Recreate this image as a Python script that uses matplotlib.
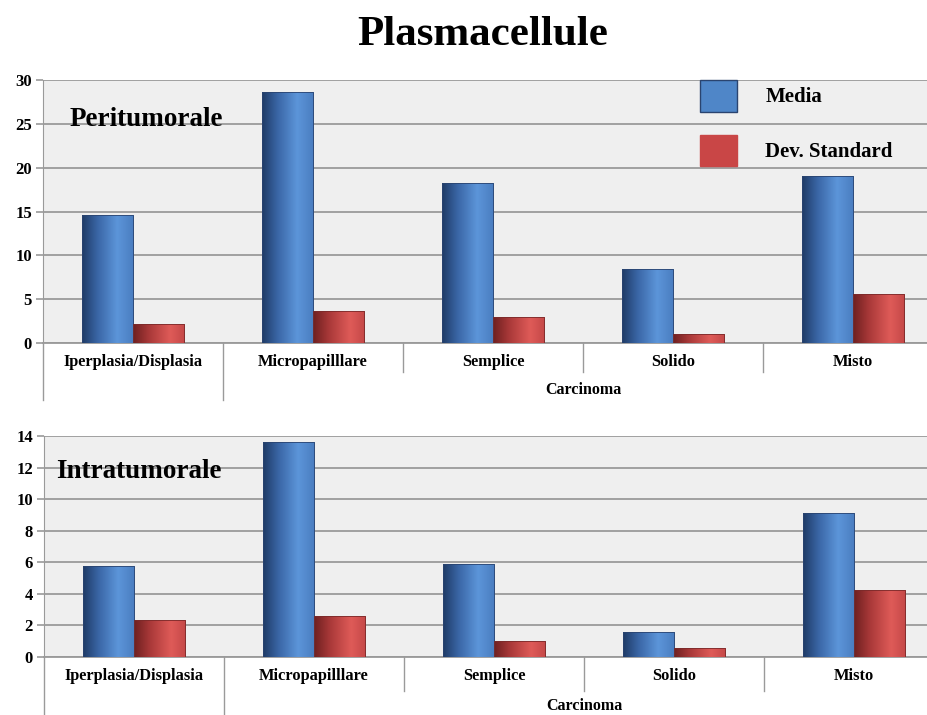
import numpy as np
import matplotlib
matplotlib.use("Agg")
import matplotlib.pyplot as plt
from matplotlib.colors import LinearSegmentedColormap
from matplotlib.patches import Rectangle
from matplotlib import transforms

categories = ["Iperplasia/Displasia", "Micropapilllare", "Semplice", "Solido", "Misto"]
group_label = "Carcinoma"
series_names = ["Media", "Dev. Standard"]

peri_media = [14.6, 28.6, 18.2, 8.4, 19.0]
peri_dev = [2.2, 3.7, 3.0, 1.05, 5.55]
intra_media = [5.75, 13.62, 5.86, 1.59, 9.12]
intra_dev = [2.33, 2.6, 1.0, 0.55, 4.23]

peri_ticks = [0, 5, 10, 15, 20, 25, 30]
intra_ticks = [0, 2, 4, 6, 8, 10, 12, 14]

plt.rcParams['font.family'] = ['Liberation Serif', 'DejaVu Serif']
plt.rcParams['font.weight'] = 'bold'

fig = plt.figure(figsize=(9.28, 7.15), dpi=100)
fig.patch.set_facecolor('white')

blue_cmap = LinearSegmentedColormap.from_list(
    'b', [(0, '#1F3B66'), (0.3, '#3A66A6'), (0.68, '#5C95D9'), (1.0, '#4A7DC0')])
red_cmap = LinearSegmentedColormap.from_list(
    'r', [(0, '#6E2020'), (0.3, '#A83838'), (0.72, '#DF5B58'), (1.0, '#C44848')])

grad = np.linspace(0, 1, 128).reshape(1, -1)

def gradient_bars(ax, bars, cmap):
    for r in bars:
        x0, y0, w, h = r.get_x(), r.get_y(), r.get_width(), r.get_height()
        im = ax.imshow(grad, extent=[x0, x0 + w, y0, y0 + h], aspect='auto',
                       cmap=cmap, zorder=3, interpolation='bicubic')
        im.set_clip_path(r)

def panel(rect, media, dev, ticks, label, label_xy, sep_short, sep_long, carc_off):
    ax = fig.add_axes(rect)
    ax.set_facecolor('#EFEFEF')
    x = np.arange(len(categories))
    w = 0.285
    b1 = ax.bar(x - w / 2, media, w, color='none', edgecolor='#2A4470', linewidth=0.6, zorder=4)
    b2 = ax.bar(x + w / 2, dev, w, color='none', edgecolor='#7A2A2A', linewidth=0.6, zorder=4)
    gradient_bars(ax, b1, blue_cmap)
    gradient_bars(ax, b2, red_cmap)
    ax.set_xlim(-0.5, 4.5)
    ax.set_ylim(0, ticks[-1])
    ax.set_yticks(ticks)
    ax.set_yticklabels([str(t) for t in ticks], fontsize=12, fontweight='bold')
    ax.yaxis.grid(True, color='#9A9A9A', linewidth=1.3, zorder=0)
    ax.set_axisbelow(True)
    ax.set_xticks([])
    for s in ['top', 'right']:
        ax.spines[s].set_visible(False)
    ax.spines['left'].set_color('#9A9A9A')
    ax.spines['bottom'].set_color('#9A9A9A')
    ax.spines['bottom'].set_linewidth(1.3)
    ax.tick_params(axis='y', color='#9A9A9A', length=5, width=1.2, pad=3)
    # category labels
    t_lab = transforms.offset_copy(ax.get_xaxis_transform(), fig=fig, y=-19, units='dots')
    for i, c in enumerate(categories):
        ax.text(i, 0, c, transform=t_lab, ha='center', va='center', fontsize=11.8, fontweight='bold')
    t_car = transforms.offset_copy(ax.get_xaxis_transform(), fig=fig, y=-carc_off, units='dots')
    ax.text(2.5, 0, group_label, transform=t_car, ha='center', va='center', fontsize=11.5,
            fontweight='bold')
    # separators
    trans = ax.get_xaxis_transform()
    for xs in [-0.5, 0.5]:
        ax.plot([xs, xs], [0, -sep_long], transform=trans, color='#9A9A9A', lw=1, clip_on=False)
    for xs in [1.5, 2.5, 3.5]:
        ax.plot([xs, xs], [0, -sep_short], transform=trans, color='#9A9A9A', lw=1, clip_on=False)
    ax.text(label_xy[0], label_xy[1], label, transform=ax.transAxes, fontsize=19.5,
            fontweight='bold', ha='left', va='center', zorder=6)
    return ax

# top panel
ax1 = panel([43 / 928, 1 - 343 / 715, 900 / 928, 263 / 715], peri_media, peri_dev, peri_ticks,
            'Peritumorale', (27 / 900, 1 - 40 / 263), 29 / 263, 57 / 263, 47)
# bottom panel
ax2 = panel([44 / 928, 1 - 657 / 715, 900 / 928, 221 / 715], intra_media, intra_dev, intra_ticks,
            'Intratumorale', (12 / 900, 1 - 36 / 221), 34 / 221, 58 / 221, 49)

# legend
handles = [Rectangle((0, 0), 1, 1, facecolor='#4F86C8', edgecolor='#2A4470', lw=1),
           Rectangle((0, 0), 1, 1, facecolor='#C94646', edgecolor='#C94646', lw=1)]
leg = ax1.legend(handles, series_names, loc='upper left', bbox_to_anchor=(657 / 900, 1.0),
                 frameon=False, borderpad=0, borderaxespad=0,
                 prop={'family': 'Liberation Serif', 'weight': 'bold', 'size': 15},
                 handlelength=1.78, handleheight=1.96, labelspacing=1.1, handletextpad=1.35)

fig.text(483 / 928, 1 - 35 / 715, 'Plasmacellule', ha='center', va='center', fontsize=31,
         fontweight='bold')

fig.savefig('out.png', dpi=100)
